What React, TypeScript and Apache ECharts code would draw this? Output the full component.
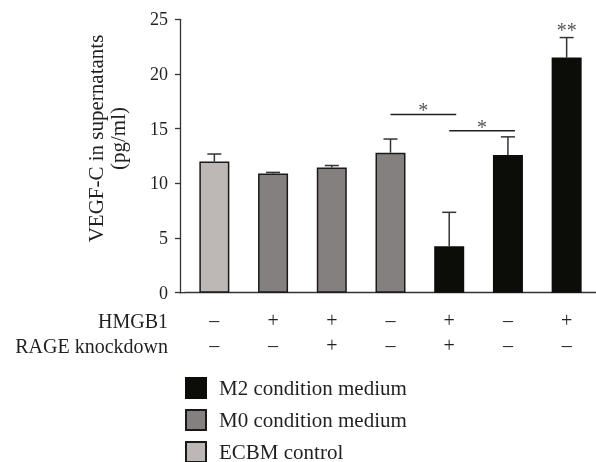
import React, { useEffect, useRef } from "react";
import * as echarts from "echarts";

const categories = [
  "ECBM control",
  "M0 + HMGB1",
  "M0 + HMGB1 + RAGE KD",
  "M0",
  "M2 + HMGB1 + RAGE KD",
  "M2",
  "M2 + HMGB1",
];
const groups = ["ECBM control", "M0 condition medium", "M0 condition medium", "M0 condition medium", "M2 condition medium", "M2 condition medium", "M2 condition medium"];
const means = [12.0, 10.9, 11.45, 12.8, 4.25, 12.6, 21.5];
const errors = [0.68, 0.1, 0.18, 1.25, 3.1, 1.65, 1.83];
const errLabels = ["", "", "", "", "", "", "**"];
const hmgb1 = ["–", "+", "+", "–", "+", "–", "+"];
const rageKd = ["–", "–", "+", "–", "+", "–", "–"];
const sigFrom = [3, 4];
const sigTo = [4, 5];
const sigY = [16.3, 14.8];
const sigLabels = ["*", "*"];
const yTicks = [0, 5, 10, 15, 20, 25];

const FONT = "'Liberation Serif', 'Times New Roman', serif";
const TXT = "#231f20";

const seriesDefs = [
  { name: "M2 condition medium", color: "#0c0c09", border: "#0c0c09" },
  { name: "M0 condition medium", color: "#858080", border: "#1a1a1a" },
  { name: "ECBM control", color: "#bdb8b6", border: "#1a1a1a" },
];

export default function App() {
  const ref = useRef<HTMLDivElement>(null);
  useEffect(() => {
    if (!ref.current) return;
    const chart = echarts.init(ref.current, null, { renderer: "svg" });
    const barSeries = seriesDefs.map((d) => ({
      name: d.name,
      type: "bar",
      barWidth: 30,
      barGap: "-100%",
      itemStyle: { color: d.color, borderColor: d.border, borderWidth: 1.5 },
      data: means.map((v, i) => (groups[i] === d.name ? v : null)),
      z: 2,
    }));
    const option: any = {
      animation: false,
      grid: { left: 185, right: 0, top: 19.3, bottom: 169.3, containLabel: false },
      legend: {
        orient: "vertical",
        left: 185,
        top: 377,
        padding: 0,
        height: 120,
        icon: "rect",
        itemWidth: 20,
        itemHeight: 20,
        itemGap: 10,
        data: seriesDefs.map((d) => d.name),
        textStyle: { fontFamily: FONT, fontSize: 21, color: TXT, lineHeight: 20, padding: [0, 0, 0, 8] },
      },
      xAxis: {
        type: "category",
        data: categories,
        axisLine: { lineStyle: { color: "#333", width: 1.3 } },
        axisTick: { alignWithLabel: true, length: 6, lineStyle: { color: "#333", width: 1.3 } },
        axisLabel: {
          interval: 0,
          margin: 15,
          fontFamily: FONT,
          fontSize: 20,
          lineHeight: 25,
          color: TXT,
          formatter: (_v: string, i: number) => `${hmgb1[i]}\n${rageKd[i]}`,
        },
      },
      yAxis: {
        type: "value",
        min: yTicks[0],
        max: yTicks[yTicks.length - 1],
        interval: 5,
        offset: 5,
        splitLine: { show: false },
        axisLine: { show: true, lineStyle: { color: "#333", width: 1.3 } },
        axisTick: { show: true, length: 5, lineStyle: { color: "#333", width: 1.3 } },
        axisLabel: { margin: 12, fontFamily: FONT, fontSize: 18, color: TXT },
      },
      graphic: [
        {
          type: "line",
          shape: { x1: 179.5, y1: 292.7, x2: 185, y2: 292.7 },
          style: { stroke: "#333", lineWidth: 1.3 },
        },
        {
          type: "text",
          x: 107,
          y: 138.5,
          rotation: Math.PI / 2,
          style: {
            text: "VEGF-C in supernatants\n(pg/ml)",
            font: `21px ${FONT}`,
            fill: TXT,
            align: "center",
            verticalAlign: "middle",
            lineHeight: 22,
          },
        },
        {
          type: "text",
          x: 168,
          y: 320.7,
          style: { text: "HMGB1", font: `20px ${FONT}`, fill: TXT, align: "right", verticalAlign: "middle" },
        },
        {
          type: "text",
          x: 168,
          y: 345.7,
          style: { text: "RAGE knockdown", font: `20px ${FONT}`, fill: TXT, align: "right", verticalAlign: "middle" },
        },
      ],
      series: [
        ...barSeries,
        {
          name: "error",
          type: "custom",
          z: 3,
          data: means.map((m, i) => [i, m, errors[i]]),
          renderItem: (params: any, api: any) => {
            const x = api.value(0);
            const m = api.value(1);
            const e = api.value(2);
            const base = api.coord([x, m]);
            const top = api.coord([x, m + e]);
            const children: any[] = [
              { type: "line", shape: { x1: base[0], y1: base[1], x2: top[0], y2: top[1] }, style: { stroke: "#333", lineWidth: 1.5 } },
              { type: "line", shape: { x1: top[0] - 7, y1: top[1], x2: top[0] + 7, y2: top[1] }, style: { stroke: "#333", lineWidth: 1.5 } },
            ];
            const lbl = errLabels[params.dataIndex];
            if (lbl) {
              children.push({
                type: "text",
                x: top[0],
                y: top[1] - 8,
                style: { text: lbl, font: `20px ${FONT}`, fill: "#555", align: "center", verticalAlign: "middle" },
              });
            }
            return { type: "group", children };
          },
        },
        {
          name: "sig",
          type: "custom",
          z: 3,
          data: sigFrom.map((f, i) => [f, sigTo[i], sigY[i]]),
          renderItem: (params: any, api: any) => {
            const a = api.coord([api.value(0), api.value(2)]);
            const b = api.coord([api.value(1), api.value(2)]);
            const x1 = a[0];
            const x2 = b[0] + 7;
            return {
              type: "group",
              children: [
                { type: "line", shape: { x1, y1: a[1], x2, y2: a[1] }, style: { stroke: "#231f20", lineWidth: 1.5 } },
                {
                  type: "text",
                  x: (x1 + x2) / 2,
                  y: a[1] - 4,
                  style: { text: sigLabels[params.dataIndex], font: `20px ${FONT}`, fill: "#555", align: "center", verticalAlign: "middle" },
                },
              ],
            };
          },
        },
      ],
    };
    chart.setOption(option);
    return () => chart.dispose();
  }, []);
  return <div ref={ref} style={{ position: "fixed", left: 0, top: 0, width: 596, height: 462 }} />;
}
